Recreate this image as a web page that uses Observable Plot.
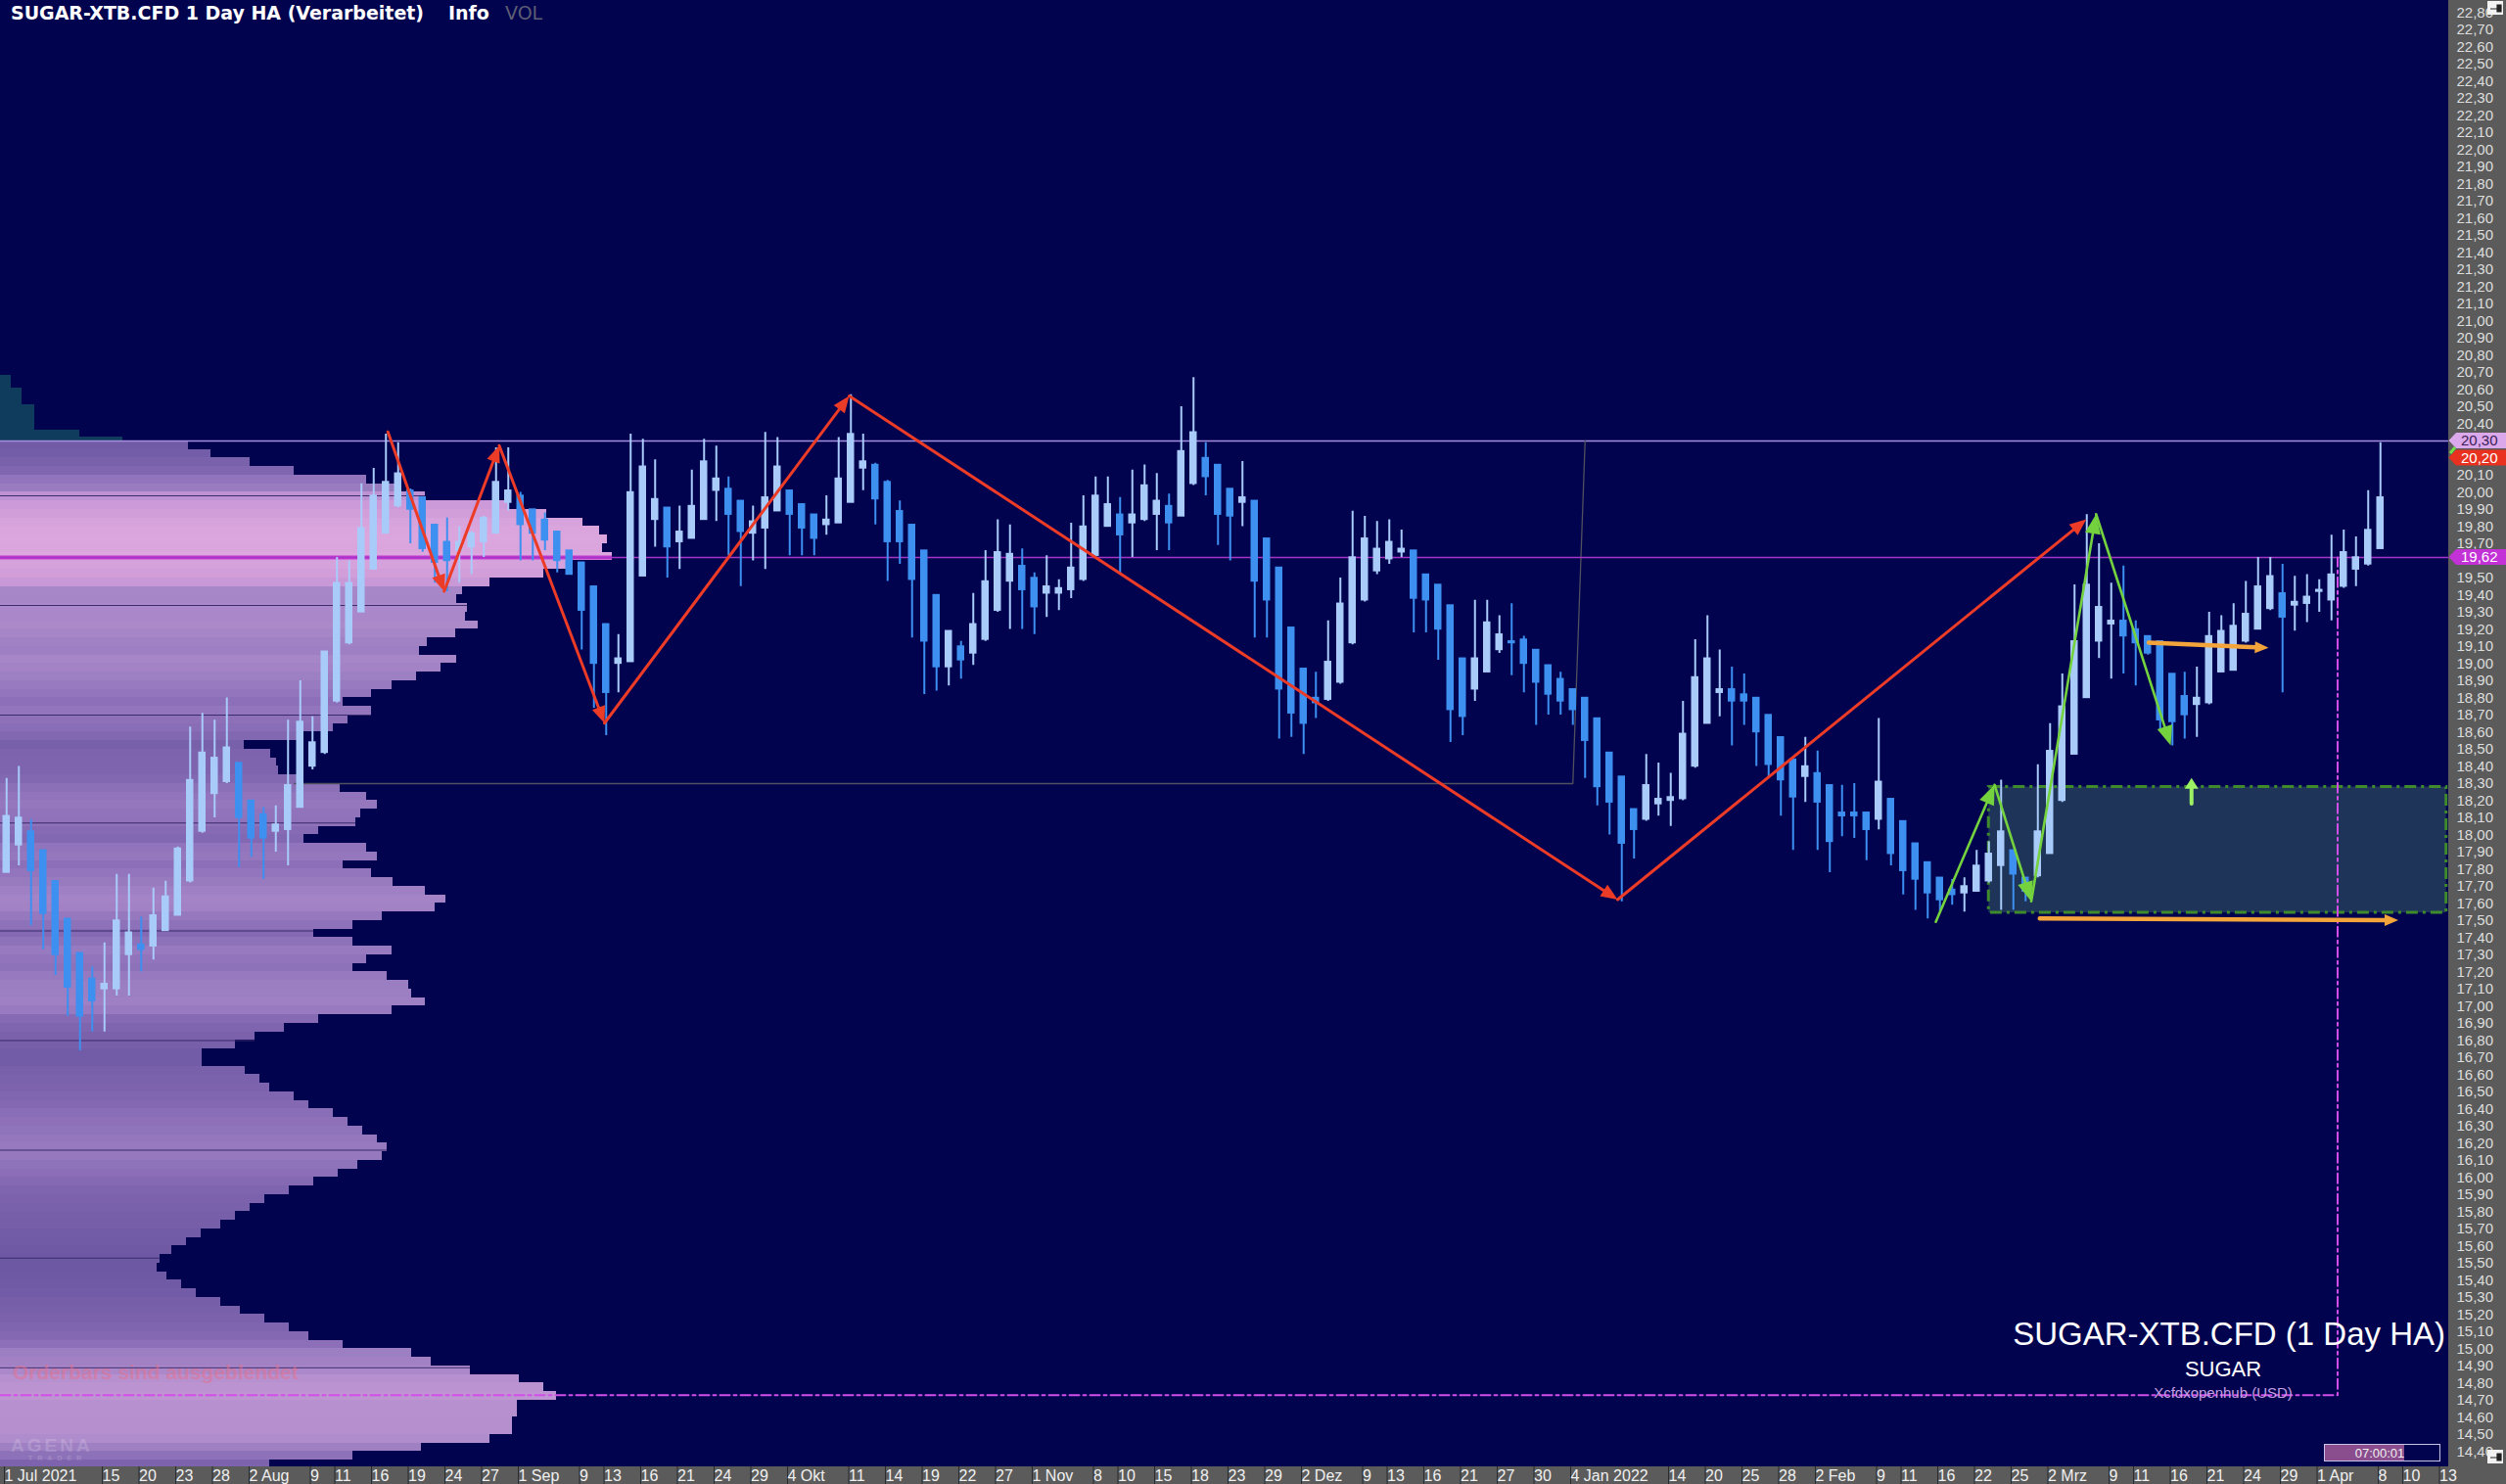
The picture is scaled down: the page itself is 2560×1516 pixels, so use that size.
<!DOCTYPE html>
<html><head><meta charset="utf-8">
<script src="https://cdn.jsdelivr.net/npm/d3@7"></script>
<script src="https://cdn.jsdelivr.net/npm/@observablehq/plot@0.6"></script>
<style>
html,body{margin:0;padding:0;background:#01034f;}
#wrap{position:relative;width:2560px;height:1516px;overflow:hidden;background:#01034f;}
#wrap > svg{position:absolute;left:0;top:0;}
.panel{position:absolute;background:#5b5b5b;}
</style></head>
<body>
<div id="wrap">
  <div class="panel" style="left:2501px;top:0;width:59px;height:1516px;"></div>
  <div class="panel" style="left:0;top:1498px;width:2560px;height:18px;"></div>
</div>
<script>
// ---------------- DATA ----------------
// Heikin-Ashi candles, one per trading-day slot (slot 0 = first visible day)
const opens = [17.78,17.94,18.02,17.91,17.73,17.51,17.31,17.16,17.10,17.10,
17.30,17.36,17.35,17.44,17.53,17.73,18.02,18.24,18.31,18.42,
18.20,18.12,18.02,18.03,18.16,18.40,18.48,18.78,19.12,19.30,
19.55,19.76,19.92,20.01,19.97,19.81,19.71,19.66,19.68,19.71,
19.76,19.94,19.98,19.90,19.84,19.77,19.66,19.59,19.45,19.23,
19.00,19.01,19.51,19.84,19.91,19.71,19.73,19.84,20.01,20.02,
19.95,19.76,19.79,19.89,20.01,19.93,19.87,19.81,19.82,19.94,
20.14,20.16,20.06,19.89,19.81,19.66,19.40,18.98,19.10,19.06,
19.14,19.31,19.48,19.57,19.50,19.41,19.41,19.43,19.49,19.63,
19.80,19.87,19.82,19.84,19.87,19.92,19.86,20.05,20.20,20.16,
20.02,19.94,19.95,19.73,19.56,19.21,18.97,18.80,18.79,18.89,
19.12,19.37,19.54,19.61,19.65,19.66,19.52,19.46,19.34,19.03,
18.85,18.95,19.08,19.13,19.14,19.08,18.99,18.91,18.85,18.80,
18.68,18.48,18.34,18.15,18.09,18.18,18.20,18.21,18.40,18.65,
18.83,18.85,18.82,18.80,18.70,18.57,18.44,18.34,18.36,18.29,
18.13,18.13,18.13,18.09,18.21,18.08,17.95,17.84,17.75,17.68,
17.66,17.67,17.73,17.82,17.91,17.75,17.76,17.89,18.20,18.47,
18.80,19.13,19.23,19.25,19.20,19.16,19.13,18.94,18.81,18.76,
18.77,18.95,18.96,19.13,19.20,19.32,19.41,19.34,19.35,19.42,
19.37,19.45,19.55,19.58,19.67];
const highs = [18.33,18.40,18.09,17.91,17.73,17.51,17.31,17.23,17.37,17.77,
17.77,17.52,17.69,17.73,17.93,18.63,18.71,18.67,18.80,18.42,
18.20,18.16,18.17,18.67,18.90,18.69,19.07,19.62,19.60,20.05,
20.14,20.34,20.29,20.02,19.97,19.81,19.85,19.80,19.77,19.86,
20.26,20.26,20.00,19.90,19.88,19.77,19.66,19.59,19.45,19.23,
19.17,20.34,20.31,20.19,19.91,19.92,20.13,20.31,20.27,20.09,
19.95,19.92,20.35,20.32,20.01,19.93,19.87,19.98,20.32,20.57,
20.34,20.17,20.07,19.95,19.81,19.66,19.40,19.19,19.13,19.41,
19.66,19.84,19.81,19.67,19.53,19.63,19.49,19.82,19.98,20.09,
20.09,19.97,20.13,20.16,20.11,19.99,20.50,20.67,20.29,20.16,
20.02,20.18,19.95,19.73,19.56,19.21,18.97,18.95,19.25,19.50,
19.89,19.86,19.83,19.84,19.78,19.66,19.52,19.46,19.34,19.03,
19.37,19.37,19.28,19.35,19.16,19.08,18.99,18.95,18.85,18.80,
18.68,18.48,18.34,18.15,18.47,18.42,18.36,18.78,19.14,19.28,
19.08,18.98,18.94,18.80,18.70,18.57,18.44,18.57,18.49,18.29,
18.29,18.30,18.13,18.68,18.21,18.08,17.95,17.84,17.75,17.74,
17.75,17.91,17.96,18.32,17.91,17.75,18.41,18.65,18.94,19.46,
19.87,19.70,19.47,19.57,19.25,19.16,19.13,18.94,18.95,18.98,
19.30,19.28,19.35,19.48,19.62,19.62,19.58,19.51,19.52,19.49,
19.75,19.78,19.74,20.01,20.29];
const lows = [17.78,17.82,17.47,17.33,17.18,16.94,16.74,16.85,16.85,17.06,
17.06,17.20,17.27,17.44,17.53,17.72,18.01,18.10,18.30,17.81,
17.87,17.74,17.90,17.82,18.16,18.38,18.47,18.77,19.11,19.30,
19.55,19.76,19.91,19.70,19.65,19.47,19.42,19.47,19.52,19.62,
19.76,19.89,19.60,19.60,19.66,19.53,19.52,19.08,18.74,18.58,
18.83,19.01,19.51,19.68,19.50,19.55,19.73,19.84,19.83,19.63,
19.45,19.60,19.55,19.89,19.63,19.63,19.63,19.75,19.82,19.94,
20.01,19.81,19.48,19.58,19.15,18.82,18.84,18.87,18.91,18.99,
19.13,19.30,19.20,19.20,19.17,19.27,19.31,19.38,19.48,19.63,
19.80,19.52,19.62,19.83,19.66,19.66,19.86,20.04,19.98,19.69,
19.60,19.80,19.15,19.15,18.56,18.57,18.47,18.68,18.78,18.88,
19.11,19.36,19.52,19.58,19.62,19.18,19.18,19.02,18.54,18.58,
18.78,18.95,19.06,18.93,18.83,18.64,18.70,18.70,18.64,18.33,
18.17,18.00,17.61,17.86,18.08,18.11,18.05,18.20,18.39,18.65,
18.69,18.52,18.64,18.40,18.33,18.11,17.91,18.19,17.91,17.78,
17.99,17.98,17.85,18.03,17.82,17.65,17.56,17.51,17.55,17.59,
17.55,17.67,17.72,17.56,17.56,17.61,17.75,17.89,18.19,18.47,
18.80,19.03,18.91,18.94,18.87,19.05,18.60,18.52,18.56,18.57,
18.76,18.95,18.96,19.12,19.20,19.31,18.83,19.19,19.24,19.30,
19.25,19.44,19.45,19.57,19.67];
const closes = [18.11,18.10,17.79,17.54,17.30,17.11,16.94,17.03,17.13,17.50,
17.43,17.33,17.53,17.64,17.92,18.32,18.48,18.45,18.51,18.10,
17.98,17.98,18.06,18.29,18.66,18.54,19.07,19.47,19.47,19.79,
19.98,20.06,20.11,19.90,19.67,19.59,19.60,19.71,19.76,19.85,
20.06,20.01,19.81,19.76,19.72,19.60,19.52,19.31,19.00,18.83,
19.03,20.00,20.15,19.96,19.68,19.77,19.92,20.18,20.08,19.87,
19.77,19.83,19.97,20.15,19.87,19.79,19.73,19.84,20.08,20.34,
20.18,19.96,19.71,19.71,19.49,19.13,18.98,19.19,19.02,19.23,
19.48,19.65,19.64,19.43,19.33,19.45,19.44,19.56,19.80,19.98,
19.93,19.75,19.87,20.04,19.95,19.82,20.24,20.35,20.09,19.87,
19.86,19.97,19.48,19.37,18.85,18.71,18.65,18.77,19.01,19.35,
19.62,19.73,19.67,19.71,19.67,19.38,19.37,19.20,18.73,18.69,
19.03,19.24,19.17,19.12,19.00,18.89,18.82,18.78,18.73,18.55,
18.28,18.19,17.95,18.03,18.29,18.21,18.22,18.59,18.92,19.03,
18.85,18.78,18.78,18.60,18.41,18.32,18.22,18.40,18.19,17.96,
18.11,18.11,18.03,18.31,17.89,17.79,17.74,17.66,17.62,17.65,
17.70,17.82,17.89,18.02,17.77,17.67,18.02,18.49,18.75,19.13,
19.46,19.33,19.25,19.16,19.12,19.06,18.67,18.66,18.70,18.80,
19.16,19.19,19.22,19.29,19.45,19.51,19.27,19.36,19.39,19.43,
19.52,19.65,19.62,19.78,19.97];

// Date axis: label text and the trading-day slot where its box starts
const tickLabels = ["1 Jul 2021","15","20","23","28","2 Aug","9","11","16","19","24","27","1 Sep","9","13","16","21","24","29","4 Okt","11","14","19","22","27","1 Nov","8","10","15","18","23","29","2 Dez","9","13","16","21","27","30","4 Jan 2022","14","20","25","28","2 Feb","9","11","16","22","25","2 Mrz","9","11","16","21","24","29","1 Apr","8","10","13"];
const tickSlots  = [0,8,11,14,17,20,25,27,30,33,36,39,42,47,49,52,55,58,61,64,69,72,75,78,81,84,89,91,94,97,100,103,106,111,113,116,119,122,125,128,136,139,142,145,148,153,155,158,161,164,167,172,174,177,180,183,186,189,194,196,199];

// Volume profile (price bins of 0.05, volume in arbitrary units)
const profBinLows = [20.25,20.20,20.15,20.10,20.05,20.00,19.95,19.90,19.85,19.80,19.75,19.70,19.65,19.60,19.55,19.50,19.45,19.40,19.35,19.30,
19.25,19.20,19.15,19.10,19.05,19.00,18.95,18.90,18.85,18.80,18.75,18.70,18.65,18.60,18.55,18.50,18.45,18.40,18.35,18.30,
18.25,18.20,18.15,18.10,18.05,18.00,17.95,17.90,17.85,17.80,17.75,17.70,17.65,17.60,17.55,17.50,17.45,17.40,17.35,17.30,
17.25,17.20,17.15,17.10,17.05,17.00,16.95,16.90,16.85,16.80,16.75,16.70,16.65,16.60,16.55,16.50,16.45,16.40,16.35,16.30,
16.25,16.20,16.15,16.10,16.05,16.00,15.95,15.90,15.85,15.80,15.75,15.70,15.65,15.60,15.55,15.50,15.45,15.40,15.35,15.30,
15.25,15.20,15.15,15.10,15.05,15.00,14.95,14.90,14.85,14.80,14.75,14.70,14.65,14.60,14.55,14.50,14.45,14.40,14.35,14.30];
const profVolumes = [192,215,255,300,374,405,434,520,558,595,612,620,615,625,585,555,500,472,466,477,
475,488,465,436,428,466,450,425,400,379,350,379,355,340,309,249,276,282,284,309,
347,374,385,368,363,325,310,374,385,350,379,401,434,455,444,390,360,320,360,400,
374,360,395,417,420,434,400,325,290,260,240,206,206,250,265,275,300,315,340,355,
370,385,395,390,365,345,320,295,270,255,240,225,205,190,175,163,160,170,185,200,
225,245,270,295,315,350,420,440,480,530,555,568,528,528,523,523,500,430,360,275];
const profBinSize = 0.05;
const valueArea = [19.45, 20.00];
// thin volume profile above the range
const upperProfLows  = [20.30,20.32,20.36,20.51,20.61];
const upperProfHighs = [20.32,20.36,20.51,20.61,20.68];
const upperProfVols  = [125,81,35,22,11];
const profileSeparators = [19.98,19.34,18.70,18.07,17.44,16.80,16.16,15.53,14.89];

// Levels and drawings
const resistance = 20.30;
const poc = 19.62;
const lowerPoc = 14.73;
const markerSlot = 191.0;
const redZigzag   = [[31.7,20.35],[36.3,19.42],[40.8,20.27],[49.4,18.65],[69.4,20.56],[132.2,17.62],[170.5,19.84]];
const greenZigzag = [[158.2,17.49],[163.0,18.29],[166.0,17.61],[171.3,19.87],[177.4,18.52]];
const orangeArrows = [[175.6,19.12,185.4,19.09],[166.7,17.51,196.0,17.50]];
const upArrow = [[179.1,18.18,179.1,18.33]];
const zoneX = [162.5,199.9], zoneY = [17.545,18.28];
const grayPath = [[24,18.30],[128.5,18.30],[129.5,20.30]];
const tagPrices = [20.30,20.20,19.62];
const tagFills  = ["#dba8ec","#e8321f","#c232d6"];
const tagText   = ["#3b1d55","#ffffff","#ffffff"];
const priceTicks = d3.range(144, 229).map(v => v / 10)
  .filter(v => !tagPrices.some(p => Math.abs(p - v) < 0.045));

// ---------------- LAYOUT ----------------
const W = 2560, H = 1516, MR = 59, MB = 18;
const yDomain = [14.3114, 22.8714];
const slotPx = 12.5;
const xDomain = [0, (W - MR) / slotPx];
const fmtPrice = v => d3.format(".2f")(v).replace(".", ",");
const LIGHT = "#a9cbfa", DARK = "#3d8ff0";

const candles = opens.map((o, i) => ({s: i, o, h: highs[i], l: lows[i], c: closes[i]}));
const profile = profBinLows.map((lo, i) => ({lo, hi: lo + profBinSize, v: profVolumes[i]}));
const upperProf = upperProfLows.map((lo, i) => ({lo, hi: upperProfHighs[i], v: upperProfVols[i]}));
const volAt = p => { const b = profile.find(d => p >= d.lo && p < d.hi); return b ? b.v : 0; };
const lavender = d3.scaleLinear().domain([160, 300, 420, 520, 625])
  .range(["#6d58a3","#8065b0","#9c7ec2","#b48fce","#c99ad6"]).clamp(true);
const pinkish = d3.scaleLinear().domain([420, 625]).range(["#bc8fd2", "#dca6de"]).clamp(true);
const profColor = d => (d.lo >= valueArea[0] && d.hi <= valueArea[1] + 1e-9) ? pinkish(d.v) : lavender(d.v);

function arrowsMark(segs, color, lw, headLen, headW) {
  return (index, scales) => {
    const g = d3.create("svg:g");
    for (const [ax, ay, bx, by] of segs) {
      const x1 = scales.x(ax), y1 = scales.y(ay), x2 = scales.x(bx), y2 = scales.y(by);
      const a = Math.atan2(y2 - y1, x2 - x1), c = Math.cos(a), s = Math.sin(a);
      const bxp = x2 - headLen * c, byp = y2 - headLen * s;
      g.append("line").attr("x1", x1).attr("y1", y1).attr("x2", bxp + c).attr("y2", byp + s)
        .attr("stroke", color).attr("stroke-width", lw).attr("stroke-linecap", "round");
      g.append("polygon").attr("fill", color)
        .attr("points", [[x2, y2], [bxp - headW * s, byp + headW * c], [bxp + headW * s, byp - headW * c]].map(p => p.join(",")).join(" "));
    }
    return g.node();
  };
}
const segsOf = pts => pts.slice(1).map((p, i) => [pts[i][0], pts[i][1], p[0], p[1]]);

function priceTags(index, scales, values, dims) {
  const g = d3.create("svg:g");
  const x0 = dims.width - dims.marginRight, x1 = dims.width, h = 15;
  tagPrices.forEach((p, i) => {
    const y = scales.y(p);
    g.append("polygon").attr("fill", tagFills[i]).attr("stroke", tagFills[i])
      .attr("points", [[x0 + 1, y], [x0 + 8, y - h / 2], [x1, y - h / 2], [x1, y + h / 2], [x0 + 8, y + h / 2]].map(q => q.join(",")).join(" "));
    g.append("text").attr("x", x0 + 13).attr("y", y + 5.5).attr("fill", tagText[i]).attr("text-anchor", "start")
      .attr("font-size", 15).attr("font-family", "Liberation Sans, Arial, sans-serif").text(fmtPrice(p));
  });
  return g.node();
}

const common = {width: W, height: H, marginLeft: 0, marginRight: MR, marginTop: 0, marginBottom: MB,
  style: {background: "transparent", overflow: "visible"}};

// Profile layer (own x scale: volume)
const profPlot = Plot.plot({
  ...common,
  x: {domain: [0, W - MR], axis: null},
  y: {domain: yDomain, axis: null},
  marks: [
    Plot.rect(upperProf, {x1: 0, x2: "v", y1: "lo", y2: "hi", fill: "#0f3b5c", shapeRendering: "crispEdges"}),
    Plot.rect(profile, {x1: 0, x2: "v", y1: "lo", y2: "hi", fill: profColor, shapeRendering: "crispEdges", clip: true}),
    Plot.ruleY(profileSeparators, {y: d => d, x1: 0, x2: d => volAt(d), stroke: "#3a2b6c", strokeWidth: 1.2}),
    Plot.ruleY([poc], {x1: 0, x2: volAt(poc), stroke: "#c23ad2", strokeWidth: 4})
  ]
});

// Main layer: candles, drawings, axes
const mainPlot = Plot.plot({
  ...common,
  style: {background: "transparent", overflow: "visible", fontFamily: "Liberation Sans, Arial, sans-serif"},
  x: {domain: xDomain, axis: null},
  y: {domain: yDomain, axis: null},
  marks: [
    Plot.ruleY([resistance], {stroke: "#a68ede", strokeWidth: 1.6}),
    Plot.line(grayPath, {x: d => d[0], y: d => d[1], stroke: "#50505e", strokeWidth: 1.3}),
    Plot.ruleY([poc], {stroke: "#a634c6", strokeWidth: 1.6}),
    Plot.rect([0], {x1: zoneX[0], x2: zoneX[1], y1: zoneY[0], y2: zoneY[1], fill: "#1e3458", stroke: "#3f8b2c", strokeWidth: 3, strokeDasharray: "12,5,3,5"}),
    Plot.line([[0, lowerPoc], [markerSlot, lowerPoc], [markerSlot, poc]], {x: d => d[0], y: d => d[1], stroke: "#d24ee8", strokeWidth: 2, strokeDasharray: "10,4,3,4"}),
    Plot.ruleX(candles, {x: d => d.s + 0.5, y1: "l", y2: "h", stroke: d => d.c >= d.o ? LIGHT : DARK, strokeWidth: 2}),
    Plot.rect(candles, {x1: d => d.s + 0.2, x2: d => d.s + 0.8,
      y1: d => Math.min(d.o, d.c) - 0.004, y2: d => Math.max(d.o, d.c) + 0.004,
      fill: d => d.c >= d.o ? LIGHT : DARK}),
    arrowsMark(segsOf(redZigzag), "#ec3b26", 3, 17, 7),
    arrowsMark(segsOf(greenZigzag), "#74d23e", 2.6, 20, 8),
    arrowsMark(orangeArrows, "#f3a43a", 4.5, 14, 6),
    arrowsMark(upArrow, "#9cf064", 4, 11, 7),
    Plot.axisY(priceTicks, {anchor: "right", tickSize: 0, tickPadding: 8, textAnchor: "start",
      tickFormat: fmtPrice, fill: "#dedede", fontSize: 15}),
    Plot.axisX(tickSlots, {anchor: "bottom", tickSize: 18, tickPadding: -15, textAnchor: "start", dx: 4,
      tickFormat: (d) => tickLabels[tickSlots.indexOf(d)], stroke: "#2b2b2b", fill: "#f0f0f0", fontSize: 16}),
    priceTags
  ]
});

const wrap = document.getElementById("wrap");
wrap.appendChild(profPlot);
wrap.appendChild(mainPlot);

// Overlay texts (titles, captions, small widgets)
const ov = d3.select(wrap).append("svg").attr("width", W).attr("height", H)
  .style("position", "absolute").style("left", 0).style("top", 0);
// pin icons on the price axis
for (const py of [1, 1481]) {
  ov.append("rect").attr("x", 2541).attr("y", py).attr("width", 16).attr("height", 14).attr("fill", "#f2f2f2");
  ov.append("path").attr("d", `M2544,${py + 8}H2551M2551,${py + 4}V${py + 11}H2555V${py + 4}Z`).attr("stroke", "#222").attr("fill", "#222").attr("stroke-width", 1.2);
}
ov.append("path").attr("d", "M2503,463L2508,457").attr("stroke", "#6fe04a").attr("stroke-width", 3);
ov.append("rect").attr("x", 2375).attr("y", 1476).attr("width", 81).attr("height", 16).attr("fill", "#8a4d8e");
ov.append("rect").attr("x", 2374.5).attr("y", 1475.5).attr("width", 118).attr("height", 17).attr("fill", "none").attr("stroke", "#c9c2ea");
const t1 = ov.append("g").attr("font-family", "DejaVu Sans, Verdana, sans-serif").attr("font-weight", "bold").attr("font-size", 19);
t1.append("text").attr("x", 11).attr("y", 20).attr("fill", "#ffffff").attr("textLength", 422).attr("lengthAdjust", "spacingAndGlyphs").text("SUGAR-XTB.CFD 1 Day HA (Verarbeitet)");
t1.append("text").attr("x", 458).attr("y", 20).attr("fill", "#ffffff").text("Info");
t1.append("text").attr("x", 516).attr("y", 20).attr("fill", "#5e5e72").attr("font-weight", "normal").text("VOL");
const t2 = ov.append("g").attr("font-family", "Liberation Sans, Arial, sans-serif");
t2.append("text").attr("x", 2498).attr("y", 1374).attr("text-anchor", "end").attr("font-size", 33).attr("fill", "#ffffff").text("SUGAR-XTB.CFD (1 Day HA)");
t2.append("text").attr("x", 2271).attr("y", 1406).attr("text-anchor", "middle").attr("font-size", 22).attr("fill", "#ffffff").text("SUGAR");
t2.append("text").attr("x", 2271).attr("y", 1428).attr("text-anchor", "middle").attr("font-size", 15).attr("fill", "#c59fe2").text("Xcfdxopenhub (USD)");
t2.append("text").attr("x", 13).attr("y", 1409).attr("font-size", 21).attr("font-weight", "bold").attr("fill", "#e8708c").attr("opacity", 0.5).text("Orderbars sind ausgeblendet");
t2.append("text").attr("x", 11).attr("y", 1483).attr("font-size", 19).attr("font-weight", "bold").attr("fill", "#ffffff").attr("opacity", 0.16).attr("letter-spacing", 3).text("AGENA");
t2.append("text").attr("x", 29).attr("y", 1492).attr("font-size", 7).attr("font-weight", "bold").attr("fill", "#ffffff").attr("opacity", 0.16).attr("letter-spacing", 5).text("TRADER");
t2.append("text").attr("x", 2431).attr("y", 1489).attr("text-anchor", "middle").attr("font-size", 13).attr("fill", "#f0f0f0").text("07:00:01");
</script>
</body></html>
